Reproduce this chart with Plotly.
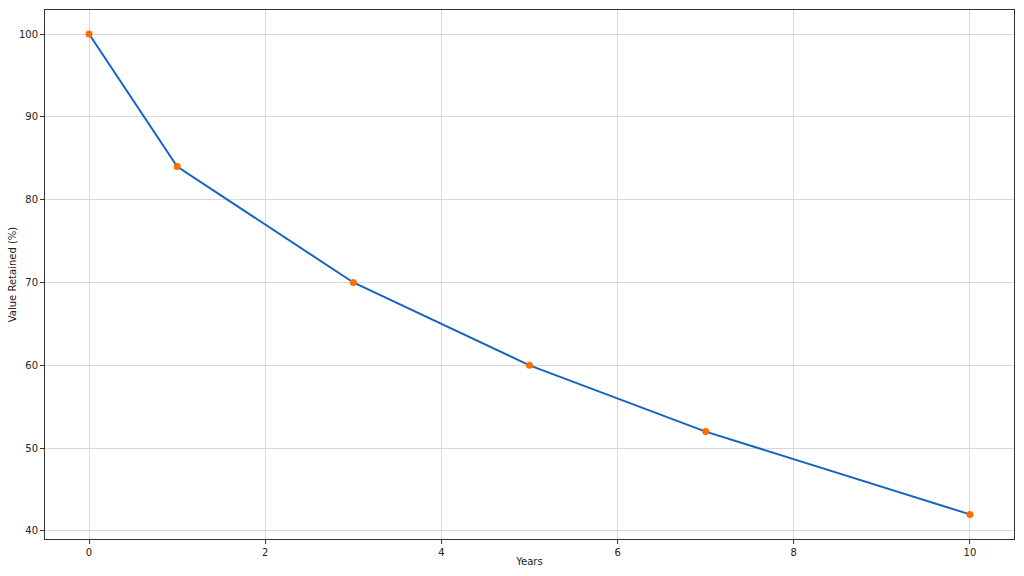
import plotly.graph_objects as go

years = [0, 1, 3, 5, 7, 10]
value_retained = [100, 84, 70, 60, 52, 42]
x_ticks = [0, 2, 4, 6, 8, 10]
y_ticks = [40, 50, 60, 70, 80, 90, 100]

fig = go.Figure()
fig.add_trace(go.Scatter(
    x=years, y=value_retained, mode='lines+markers',
    line=dict(color='#1565C0', width=2),
    marker=dict(color='#FF6F00', size=7),
    showlegend=False,
))

axis_common = dict(
    showline=True, linecolor='#333333', linewidth=1, mirror=True,
    showgrid=True, gridcolor='#d9d9d9', gridwidth=1,
    ticks='outside', ticklen=4, tickcolor='#333333',
    tickfont=dict(family='DejaVu Sans', size=10, color='#222222'),
    zeroline=False,
)

fig.update_xaxes(range=[-0.5, 10.5], tickvals=x_ticks,
                 title=dict(text='Years', font=dict(family='DejaVu Sans', size=10, color='#222222'), standoff=0),
                 **axis_common)
fig.update_yaxes(range=[39.03, 102.9], tickvals=y_ticks,
                 title=dict(text='Value Retained (%)', font=dict(family='DejaVu Sans', size=10, color='#222222'), standoff=0),
                 **axis_common)

fig.update_layout(
    width=1024, height=576,
    margin=dict(l=45, r=10, t=10, b=37, autoexpand=False),
    plot_bgcolor='white', paper_bgcolor='white',
)

fig.write_html("out.html", config={'displayModeBar': False},
               post_script="document.body.style.margin='0';")
